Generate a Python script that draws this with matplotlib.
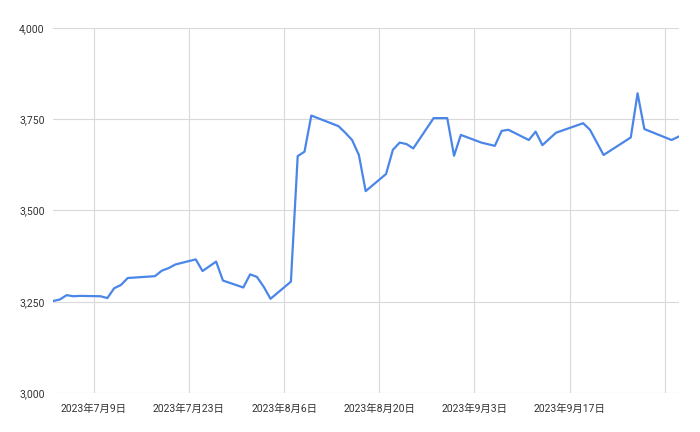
import pandas as pd
import matplotlib.pyplot as plt
import matplotlib.dates as mdates
from matplotlib.ticker import FuncFormatter

plt.rcParams['font.family'] = ['Roboto', 'Noto Sans CJK JP', 'DejaVu Sans']

dates = ['2023-07-03', '2023-07-04', '2023-07-05', '2023-07-06', '2023-07-07',
         '2023-07-10', '2023-07-11', '2023-07-12', '2023-07-13', '2023-07-14',
         '2023-07-18', '2023-07-19', '2023-07-20', '2023-07-21', '2023-07-24',
         '2023-07-25', '2023-07-27', '2023-07-28', '2023-07-31', '2023-08-01',
         '2023-08-02', '2023-08-03', '2023-08-04', '2023-08-07', '2023-08-08',
         '2023-08-09', '2023-08-10', '2023-08-14', '2023-08-15', '2023-08-16',
         '2023-08-17', '2023-08-18', '2023-08-21', '2023-08-22', '2023-08-23',
         '2023-08-24', '2023-08-25', '2023-08-28', '2023-08-30', '2023-08-31',
         '2023-09-01', '2023-09-04', '2023-09-06', '2023-09-07', '2023-09-08',
         '2023-09-11', '2023-09-12', '2023-09-13', '2023-09-15', '2023-09-19',
         '2023-09-20', '2023-09-22', '2023-09-26', '2023-09-27', '2023-09-28',
         '2023-10-02', '2023-10-03']
values = [3252, 3256, 3268, 3265, 3266,
          3265, 3260, 3287, 3296, 3315,
          3320, 3335, 3342, 3352, 3366,
          3334, 3360, 3308, 3289, 3325,
          3318, 3291, 3258, 3305, 3649,
          3661, 3760, 3731, 3713, 3693,
          3652, 3553, 3600, 3666, 3686,
          3682, 3670, 3753, 3753, 3650,
          3707, 3686, 3677, 3718, 3721,
          3693, 3716, 3679, 3713, 3739,
          3721, 3652, 3700, 3821, 3723,
          3693, 3702]
tick_dates = ['2023-07-09', '2023-07-23', '2023-08-06', '2023-08-20',
              '2023-09-03', '2023-09-17', '2023-10-01']
tick_labels = ['2023年7月9日', '2023年7月23日', '2023年8月6日', '2023年8月20日',
               '2023年9月3日', '2023年9月17日', '']
y_ticks = [3000, 3250, 3500, 3750, 4000]

x = pd.to_datetime(dates)

fig = plt.figure(figsize=(7, 4.32), dpi=100)
ax = fig.add_axes([0.0757, 0.0903, 0.895, 0.845])
ax.plot(x, values, color='#4a86e8', linewidth=1.6, solid_joinstyle='round')

ax.set_xlim(pd.Timestamp('2023-07-03'), pd.Timestamp('2023-10-03 04:00'))
ax.set_ylim(3000, 4000)
ax.set_xticks(pd.to_datetime(tick_dates))
ax.set_xticklabels(tick_labels)
ax.set_yticks(y_ticks)
ax.yaxis.set_major_formatter(FuncFormatter(lambda v, p: f'{int(v):,}'))

ax.grid(True, color='#d9d9d9', linewidth=0.8)
ax.set_axisbelow(True)
for s in ax.spines.values():
    s.set_visible(False)
ax.tick_params(length=0, labelsize=7.5, colors='#333333')
ax.tick_params(axis='x', pad=8)
ax.tick_params(axis='y', pad=6)

plt.savefig('out.png', dpi=100, facecolor='w')
plt.close()
